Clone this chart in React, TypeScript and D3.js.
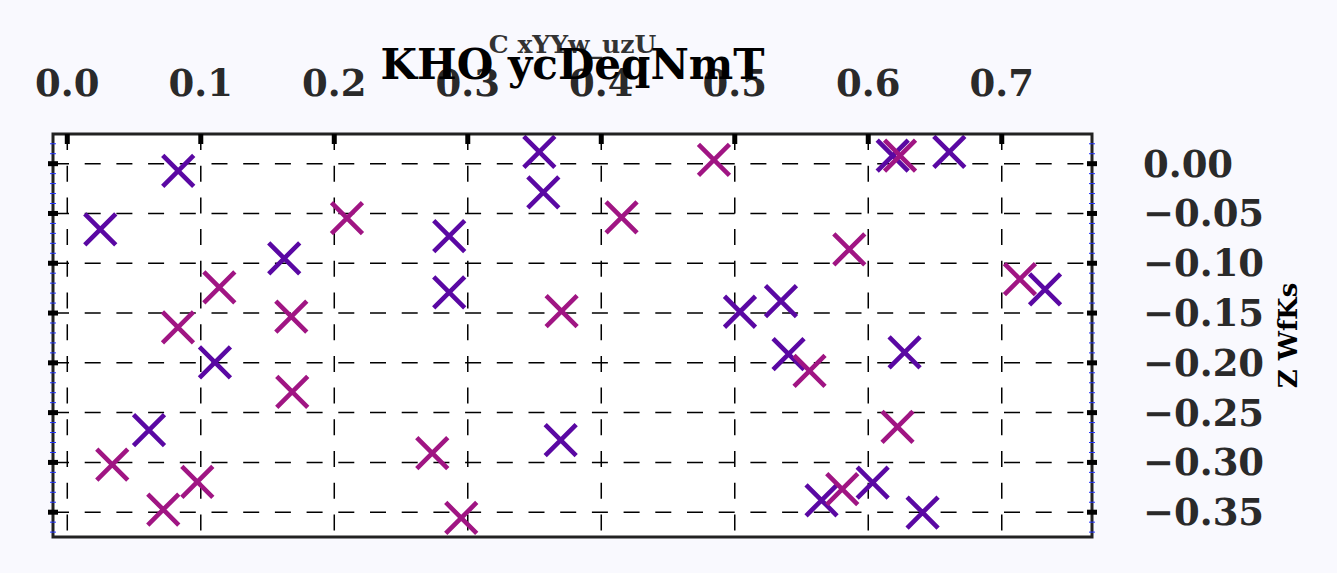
import React, { useEffect, useRef } from "react";
import * as d3 from "d3";

// data
const purpleX = [0.0831, 0.0247, 0.1625, 0.1106, 0.0612, 0.3536, 0.3566, 0.2861, 0.2861, 0.3696, 0.5039, 0.6183, 0.6607, 0.5346, 0.7324, 0.5403, 0.6272, 0.565, 0.6033, 0.6407];
const purpleY = [-0.0073, -0.0659, -0.0951, -0.1996, -0.2676, 0.0118, -0.0287, -0.0727, -0.1292, -0.2777, -0.1487, 0.008, 0.0118, -0.138, -0.1262, -0.1912, -0.1895, -0.338, -0.3202, -0.3503];
const magentaX = [0.2095, 0.1139, 0.1678, 0.0829, 0.1685, 0.0337, 0.0974, 0.0719, 0.4844, 0.4152, 0.3703, 0.2734, 0.2951, 0.6238, 0.5858, 0.7136, 0.556, 0.6219, 0.5805];
const magentaY = [-0.0548, -0.1243, -0.1535, -0.1644, -0.2291, -0.3021, -0.3196, -0.3473, 0.0037, -0.0539, -0.1481, -0.2907, -0.3558, 0.008, -0.086, -0.1159, -0.208, -0.2643, -0.3269];
const xTicks = [0.0, 0.1, 0.2, 0.3, 0.4, 0.5, 0.6, 0.7];
const yTicks = [0.0, -0.05, -0.1, -0.15, -0.2, -0.25, -0.3, -0.35];

const W = 1337;
const H = 573;
const margin = { left: 53, right: 1092, top: 134, bottom: 537 };
const FONT = "'DejaVu Serif', serif";

const App = () => {
  const ref = useRef(null);

  useEffect(() => {
    const svg = d3.select(ref.current);
    svg.selectAll("*").remove();

    const x = d3.scaleLinear().domain([-0.0107, 0.7676]).range([margin.left, margin.right]);
    const y = d3.scaleLinear().domain([-0.3749, 0.0298]).range([margin.bottom, margin.top]);

    svg.append("rect").attr("width", W).attr("height", H).attr("fill", "#f9f9fe");
    svg
      .append("rect")
      .attr("x", margin.left)
      .attr("y", margin.top)
      .attr("width", margin.right - margin.left)
      .attr("height", margin.bottom - margin.top)
      .attr("fill", "#ffffff");

    // grid
    const grid = svg.append("g").attr("stroke", "#000").attr("stroke-width", 1.5).attr("stroke-dasharray", "16,15.7");
    xTicks.forEach((t) => {
      grid.append("line").attr("x1", x(t)).attr("x2", x(t)).attr("y1", margin.top).attr("y2", margin.bottom);
    });
    yTicks.forEach((t) => {
      grid.append("line").attr("x1", margin.left).attr("x2", margin.right).attr("y1", y(t)).attr("y2", y(t));
    });

    // markers
    const drawSeries = (xs: number[], ys: number[], color: string) => {
      const g = svg.append("g").attr("stroke", color).attr("stroke-width", 4.6).attr("fill", "none");
      const pts = xs.map((v, i) => [v, ys[i]]);
      g.selectAll("path")
        .data(pts)
        .join("path")
        .attr("d", (d: any) => {
          const cx = x(d[0]);
          const cy = y(d[1]);
          const r = 15.5;
          return `M${cx - r},${cy - r}L${cx + r},${cy + r}M${cx - r},${cy + r}L${cx + r},${cy - r}`;
        });
    };
    drawSeries(purpleX, purpleY, "#5a08a3");
    drawSeries(magentaX, magentaY, "#a01583");

    // frame
    svg
      .append("rect")
      .attr("x", margin.left)
      .attr("y", margin.top)
      .attr("width", margin.right - margin.left)
      .attr("height", margin.bottom - margin.top)
      .attr("fill", "none")
      .attr("stroke", "#222")
      .attr("stroke-width", 3);

    // minor ticks on left/right spines (blue)
    const minor = d3.range(-37, 3).map((v) => v / 100);
    const mg = svg.append("g").attr("stroke", "#2233ff").attr("stroke-width", 1);
    minor.forEach((t) => {
      [margin.left, margin.right].forEach((sx) => {
        mg.append("line").attr("x1", sx - 3).attr("x2", sx + 3).attr("y1", y(t)).attr("y2", y(t));
      });
    });

    // major ticks
    const tg = svg.append("g").attr("stroke", "#000").attr("stroke-width", 5);
    xTicks.forEach((t) => {
      tg.append("line").attr("x1", x(t)).attr("x2", x(t)).attr("y1", margin.top).attr("y2", margin.top + 10);
    });
    yTicks.forEach((t) => {
      tg.append("line").attr("x1", margin.left - 5).attr("x2", margin.left + 5).attr("y1", y(t)).attr("y2", y(t));
      tg.append("line").attr("x1", margin.right - 5).attr("x2", margin.right + 5).attr("y1", y(t)).attr("y2", y(t));
    });

    // tick labels
    const fmtX = d3.format(".1f");
    const fmtY = (v: number) => d3.format(".2f")(v).replace("-", "\u2212");
    svg
      .append("g")
      .selectAll("text")
      .data(xTicks)
      .join("text")
      .attr("x", (d: any) => x(d))
      .attr("y", 96)
      .attr("text-anchor", "middle")
      .attr("font-family", FONT)
      .attr("font-weight", "bold")
      .attr("font-size", 37)
      .attr("fill", "#2a2a2a")
      .text((d: any) => fmtX(d));
    svg
      .append("g")
      .selectAll("text")
      .data(yTicks)
      .join("text")
      .attr("x", 1143)
      .attr("y", (d: any) => y(d) + 13)
      .attr("text-anchor", "start")
      .attr("font-family", FONT)
      .attr("font-weight", "bold")
      .attr("font-size", 37)
      .attr("fill", "#2a2a2a")
      .text((d: any) => (d === 0 ? "0.00" : fmtY(d)));

    // labels
    const cx = (margin.left + margin.right) / 2;
    svg
      .append("text")
      .attr("x", cx)
      .attr("y", 53)
      .attr("text-anchor", "middle")
      .attr("font-family", FONT)
      .attr("font-weight", "bold")
      .attr("font-size", 25)
      .attr("fill", "#333")
      .text("C xYYw_uzU");
    svg
      .append("text")
      .attr("x", cx)
      .attr("y", 79)
      .attr("text-anchor", "middle")
      .attr("font-family", FONT)
      .attr("font-weight", "bold")
      .attr("font-size", 42)
      .attr("fill", "#000")
      .text("KHO ycDeqNmT");
    svg
      .append("text")
      .attr("transform", `translate(1297, ${(margin.top + margin.bottom) / 2}) rotate(-90)`)
      .attr("text-anchor", "middle")
      .attr("font-family", FONT)
      .attr("font-weight", "bold")
      .attr("font-size", 26)
      .attr("fill", "#000")
      .text("Z WfKs");
  }, []);

  return (
    <div style={{ position: "fixed", left: 0, top: 0 }}>
      <svg ref={ref} width={W} height={H} style={{ display: "block" }}></svg>
    </div>
  );
};

export default App;
